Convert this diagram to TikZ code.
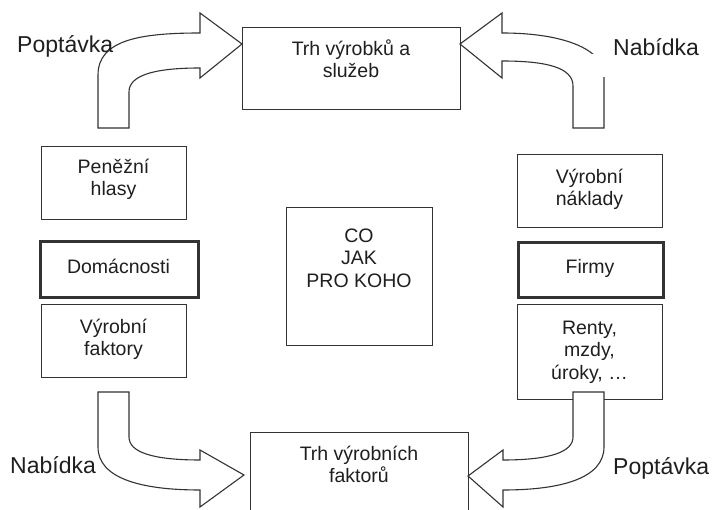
\documentclass[tikz,border=0pt]{standalone}
\usepackage{fontspec}
\setmainfont{Liberation Sans}
\definecolor{linec}{HTML}{333333}
\definecolor{txtc}{HTML}{1f1f1f}
\newcommand{\boxfont}{\fontsize{19.5}{22.5}\selectfont\lineskiplimit=-100pt\relax}
\newcommand{\lblfont}{\fontsize{23}{27}\selectfont}
\newcommand{\bstrut}{\rule{0pt}{20pt}}
\tikzset{
  boxst/.style={draw=linec, line width=1.1pt, fill=white, inner sep=0pt, anchor=north west},
  dblbox/.style={boxst, line width=1.7pt},
  txt/.style={text=txtc, font=\boxfont, align=center, inner sep=0pt, anchor=north},
  lbl/.style={text=txtc, font=\lblfont, inner sep=0pt, anchor=base west},
  blockarrow/.style={draw=linec, line width=1.1pt, fill=white, line join=miter}
}
\begin{document}
\begin{tikzpicture}[x=1pt,y=-1pt]
\useasboundingbox (0,0) rectangle (713,510);
\fill[white] (0,0) rectangle (713,510);

% boxes
\node[boxst, minimum width=218pt, minimum height=82pt] (tv) at (242,27) {};
\node[boxst, minimum width=218pt, minimum height=130pt] (tf) at (250,432) {};
\node[boxst, minimum width=146pt, minimum height=138pt] (ctr) at (286,207) {};
\node[boxst, minimum width=145pt, minimum height=73pt] (phl) at (41,146) {};
\node[dblbox, minimum width=159pt, minimum height=57pt] (dom) at (39,240) {};
\node[boxst, minimum width=145pt, minimum height=73pt] (vf) at (41,304) {};
\node[boxst, minimum width=145pt, minimum height=73pt] (vn) at (517,154) {};
\node[dblbox, minimum width=146pt, minimum height=56pt] (fir) at (517,241) {};
\node[boxst, minimum width=145pt, minimum height=95pt] (rmu) at (517,304) {};
\draw[linec, line width=0.7pt] ([shift={(2.6pt,-2.6pt)}]dom.north west) rectangle ([shift={(-2.6pt,2.6pt)}]dom.south east);
\draw[linec, line width=0.7pt] ([shift={(2.6pt,-2.6pt)}]fir.north west) rectangle ([shift={(-2.6pt,2.6pt)}]fir.south east);

% box texts
\node[txt] (tvT) at (351,35) {\bstrut Trh výrobků a\\služeb};
\node[txt] (tfT) at (359,440) {\bstrut Trh výrobních\\faktorů};
\node[txt] (ctrT) at (359,222) {\bstrut CO\\JAK\\PRO KOHO};
\node[txt] (phlT) at (113.5,153) {\bstrut Peněžní\\hlasy};
\node[txt] (domT) at (118.5,253) {\bstrut Domácnosti};
\node[txt] (vfT) at (113.5,313) {\bstrut Výrobní\\faktory};
\node[txt] (vnT) at (589.5,163) {\bstrut Výrobní\\náklady};
\node[txt] (firT) at (590,253) {\bstrut Firmy};
\node[txt] (rmuT) at (589.5,314) {\bstrut Renty,\\mzdy,\\úroky, …};

% block arrows
\draw[blockarrow] (98,128) -- (98,75) .. controls (98,40) and (140,33) .. (200,33)
  -- (200,13) -- (242,44) -- (200,78) -- (200,68)
  .. controls (152,68) and (129,76) .. (129,92) -- (129,128) -- cycle;
\draw[blockarrow] (604,128) -- (604,75) .. controls (604,50) and (565,33) .. (502,33)
  -- (502,13) -- (460,44) -- (502,78) -- (502,61)
  .. controls (548,61) and (573,68) .. (573,86) -- (573,128) -- cycle;
\draw[blockarrow] (98,392) -- (98,447) .. controls (98,478) and (140,490) .. (200,490)
  -- (200,507) -- (244,475) -- (200,450) -- (200,460)
  .. controls (152,460) and (129,452) .. (129,437) -- (129,392) -- cycle;
\draw[blockarrow] (604,392) -- (604,447) .. controls (604,478) and (562,490) .. (503,490)
  -- (503,507) -- (468,476) -- (503,450) -- (503,460)
  .. controls (550,460) and (573,452) .. (573,437) -- (573,392) -- cycle;
\fill[white] (589,54) rectangle (609,77);

% labels
\node[lbl] (popL) at (17,53) {Poptávka};
\node[lbl] (nabR) at (613,56) {Nabídka};
\node[lbl] (nabL) at (10,474) {Nabídka};
\node[lbl] (popR) at (613,475) {Poptávka};
\end{tikzpicture}
\end{document}
